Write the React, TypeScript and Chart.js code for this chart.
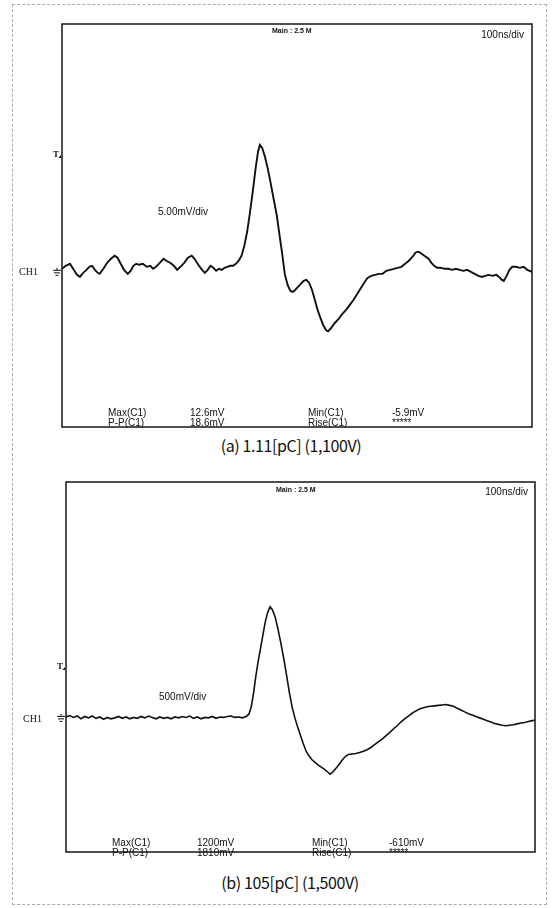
import React, { useEffect, useRef } from "react";
import { Chart, registerables } from "chart.js";

Chart.register(...registerables);

// ---------- Panel (a): 1.11 pC, 5.00 mV/div, 100 ns/div ----------
const A_TIME_NS = [
  0, 8, 17, 25, 32, 38, 45, 52, 58, 64, 70, 76, 80, 88, 96, 104, 112, 118, 125, 132,
  140, 146, 152, 158, 164, 172, 180, 188, 194, 200, 208, 216, 222, 230, 238, 245, 252, 260, 268, 276,
  282, 290, 298, 304, 310, 316, 322, 328, 334, 340, 346, 352, 358, 364, 370, 376, 382, 388, 394, 400,
  406, 412, 417, 421, 426, 432, 438, 444, 450, 457, 463, 469, 474, 480, 486, 491, 496, 502, 508, 514,
  520, 526, 532, 538, 544, 550, 556, 562, 566, 572, 580, 588, 596, 604, 612, 620, 628, 636, 644, 650,
  658, 666, 674, 682, 690, 698, 706, 714, 722, 730, 738, 746, 752, 757, 762, 768, 774, 780, 786, 792,
  798, 806, 814, 822, 830, 838, 846, 854, 862, 870, 878, 886, 894, 900, 908, 916, 924, 930, 936, 940,
  946, 952, 958, 966, 974, 982, 990, 1000,
];
const A_MV = [
  0.3, 0.6, 0.8, 0.2, -0.3, -0.5, -0.1, 0.2, 0.5, 0.6, 0.2, -0.1, -0.2, 0.3, 0.9, 1.3, 1.6, 1.4, 0.8, 0.2,
  -0.2, 0.1, 0.6, 0.8, 0.7, 0.8, 0.5, 0.6, 0.3, 0.5, 0.9, 1.3, 1.1, 0.9, 0.6, 0.2, 0.5, 0.9, 1.4, 1.6,
  1.3, 0.7, 0.2, -0.1, 0.2, 0.6, 0.4, 0.1, 0.3, 0.2, 0.4, 0.5, 0.6, 0.6, 0.8, 1.1, 1.6, 2.6, 4.0, 5.9,
  8.0, 10.3, 11.9, 12.6, 12.3, 11.4, 10.2, 8.8, 7.3, 5.6, 3.6, 1.6, -0.2, -1.3, -1.9, -2.0, -1.8, -1.5, -1.2, -0.9,
  -0.8, -1.1, -1.8, -2.8, -3.8, -4.6, -5.3, -5.8, -5.9, -5.6, -5.1, -4.7, -4.2, -3.8, -3.3, -2.8, -2.2, -1.6, -1.0, -0.6,
  -0.4, -0.3, -0.2, -0.2, 0.1, 0.2, 0.3, 0.4, 0.5, 0.8, 1.1, 1.5, 1.9, 2.0, 1.9, 1.7, 1.5, 1.3, 0.9, 0.6,
  0.4, 0.4, 0.3, 0.3, 0.2, 0.3, 0.2, 0.1, 0.2, 0.0, -0.2, -0.4, -0.5, -0.4, -0.3, -0.4, -0.3, -0.5, -0.8, -0.9,
  -0.4, 0.2, 0.5, 0.5, 0.4, 0.5, 0.2, 0.0,
];
const A_STATS = ["Max(C1)", "12.6mV", "Min(C1)", "-5.9mV", "P-P(C1)", "18.6mV", "Rise(C1)", "*****"];
const A_VDIV = "5.00mV/div";
const A_CAPTION = "(a) 1.11[pC] (1,100V)";
const A_TRIGGER_MV = 11.6;

// ---------- Panel (b): 105 pC, 500 mV/div, 100 ns/div ----------
const B_TIME_NS = [
  0, 8, 16, 24, 32, 40, 48, 56, 64, 72, 80, 88, 96, 104, 112, 120, 128, 136, 144, 152,
  160, 168, 176, 184, 192, 200, 208, 216, 224, 232, 240, 248, 256, 264, 272, 280, 288, 296, 304, 312,
  320, 328, 336, 344, 352, 360, 368, 376, 384, 390, 395, 400, 405, 410, 415, 420, 425, 430, 435, 440,
  446, 452, 458, 464, 470, 476, 482, 488, 494, 500, 506, 512, 518, 524, 531, 538, 545, 552, 558, 563,
  568, 573, 578, 584, 590, 596, 602, 610, 618, 626, 634, 642, 650, 658, 666, 674, 682, 690, 698, 706,
  714, 722, 730, 738, 746, 754, 762, 770, 778, 786, 794, 802, 810, 818, 826, 834, 842, 850, 858, 866,
  874, 882, 890, 898, 906, 914, 922, 930, 938, 946, 954, 962, 970, 978, 986, 994, 1000,
];
const B_MV = [
  10, 25, 5, 20, -10, 15, 0, 20, -5, 10, -15, 5, -10, 0, 15, -5, 10, -10, 5, -5,
  15, 0, 20, 5, -10, 10, -5, 5, -10, 10, 0, 15, 5, 20, -5, 10, -10, 5, 0, 15,
  -5, 10, 5, 15, 20, 5, 10, 0, 15, 40, 120, 270, 460, 620, 760, 900, 1040, 1140, 1200, 1170,
  1090, 960, 810, 650, 470, 280, 120, 0, -100, -190, -280, -360, -410, -450, -480, -510, -535, -560, -585, -610,
  -590, -560, -530, -490, -450, -415, -395, -390, -385, -375, -360, -345, -320, -290, -260, -230, -195, -160, -120, -85,
  -45, -10, 20, 50, 75, 95, 110, 120, 125, 130, 135, 140, 145, 135, 125, 105, 85, 65, 45, 30,
  15, 0, -15, -30, -45, -60, -70, -80, -85, -80, -75, -65, -55, -50, -40, -30, -25,
];
const B_STATS = ["Max(C1)", "1200mV", "Min(C1)", "-610mV", "P-P(C1)", "1810mV", "Rise(C1)", "*****"];
const B_VDIV = "500mV/div";
const B_CAPTION = "(b) 105[pC] (1,500V)";
const B_TRIGGER_MV = 551;

const TIMEBASE = "100ns/div";
const MAIN_LABEL = "Main : 2.5 M";
const CH_LABEL = "CH1";

type Panel = {
  time: number[];
  mv: number[];
  yMin: number;
  yMax: number;
  trigger: number;
  stats: string[];
  vdiv: string;
  top: number;
  height: number;
  lineWidth: number;
  padding: { left: number; right: number; top: number; bottom: number };
  statsX: number[];
  statsY: number[];
  vdivPos: [number, number];
  mainPos: [number, number];
  tbPos: [number, number];
  chX: number;
};

const PANEL_A: Panel = {
  time: A_TIME_NS,
  mv: A_MV,
  yMin: -15.4,
  yMax: 24.6,
  trigger: A_TRIGGER_MV,
  stats: A_STATS,
  vdiv: A_VDIV,
  top: 0,
  height: 432,
  lineWidth: 1.9,
  padding: { left: 62, right: 22, top: 24, bottom: 5 },
  statsX: [108, 190, 308, 392],
  statsY: [413, 423],
  vdivPos: [158, 212],
  mainPos: [272, 31],
  tbPos: [524, 35],
  chX: 19,
};

const PANEL_B: Panel = {
  time: B_TIME_NS,
  mv: B_MV,
  yMin: -1450,
  yMax: 2550,
  trigger: B_TRIGGER_MV,
  stats: B_STATS,
  vdiv: B_VDIV,
  top: 470,
  height: 390,
  lineWidth: 1.6,
  padding: { left: 66, right: 19, top: 12, bottom: 8 },
  statsX: [112, 197, 312, 389],
  statsY: [843 - 470, 853 - 470],
  vdivPos: [159, 697 - 470],
  mainPos: [276, 490 - 470],
  tbPos: [528, 492 - 470],
  chX: 23,
};

function Scope({ p }: { p: Panel }) {
  const ref = useRef<HTMLCanvasElement>(null);
  useEffect(() => {
    const canvas = ref.current;
    if (!canvas) return;
    const overlay = {
      id: "scopeOverlay",
      afterDraw(chart: any) {
        const c = chart.ctx as CanvasRenderingContext2D;
        const a = chart.chartArea;
        const ys = chart.scales.y;
        c.save();
        c.strokeStyle = "#151515";
        c.lineWidth = 1.5;
        c.strokeRect(a.left, a.top, a.right - a.left, a.bottom - a.top);
        c.fillStyle = "#111";
        c.textBaseline = "middle";
        c.font = "bold 7px 'Liberation Sans', Arial, sans-serif";
        c.textAlign = "left";
        c.fillText(MAIN_LABEL, p.mainPos[0], p.mainPos[1]);
        c.font = "10px 'Liberation Sans', Arial, sans-serif";
        c.textAlign = "right";
        c.fillText(TIMEBASE, p.tbPos[0], p.tbPos[1]);
        c.textAlign = "left";
        c.fillText(p.vdiv, p.vdivPos[0], p.vdivPos[1]);
        for (let r = 0; r < 2; r++) {
          for (let k = 0; k < 4; k++) {
            c.fillText(p.stats[r * 4 + k], p.statsX[k], p.statsY[r]);
          }
        }
        const y0 = ys.getPixelForValue(0);
        c.font = "10px 'Liberation Serif', 'Times New Roman', serif";
        c.fillText(CH_LABEL, p.chX, y0 + 1);
        const gx = a.left - 5;
        c.strokeStyle = "#111";
        c.lineWidth = 1;
        c.beginPath();
        c.moveTo(gx - 4, y0 - 1.5);
        c.lineTo(gx + 4, y0 - 1.5);
        c.moveTo(gx - 3, y0 + 1);
        c.lineTo(gx + 3, y0 + 1);
        c.moveTo(gx - 1.5, y0 + 3.5);
        c.lineTo(gx + 1.5, y0 + 3.5);
        c.moveTo(gx, y0 - 4);
        c.lineTo(gx, y0 - 1.5);
        c.stroke();
        const yt = ys.getPixelForValue(p.trigger);
        c.font = "bold 9px 'Liberation Serif', serif";
        c.fillText("T", a.left - 9, yt);
        c.beginPath();
        c.moveTo(a.left - 3.5, yt + 3);
        c.lineTo(a.left - 1, yt + 3);
        c.lineTo(a.left - 1, yt);
        c.closePath();
        c.fill();
        c.restore();
      },
    };
    const chart = new Chart(canvas, {
      type: "line",
      data: {
        datasets: [
          {
            data: p.time.map((t, i) => ({ x: t, y: p.mv[i] })),
            borderColor: "#111",
            borderWidth: p.lineWidth,
            pointRadius: 0,
            tension: 0,
            fill: false,
          },
        ],
      },
      options: {
        animation: false,
        responsive: false,
        devicePixelRatio: 1,
        layout: { padding: p.padding },
        plugins: { legend: { display: false }, tooltip: { enabled: false } },
        scales: {
          x: { type: "linear", min: 0, max: 1000, display: false },
          y: { type: "linear", min: p.yMin, max: p.yMax, display: false },
        },
      },
      plugins: [overlay],
    } as any);
    return () => chart.destroy();
  }, [p]);
  return (
    <canvas
      ref={ref}
      width={554}
      height={p.height}
      style={{ position: "absolute", left: 0, top: p.top, width: 554, height: p.height }}
    />
  );
}

const captionStyle = (cx: number, cy: number): React.CSSProperties => ({
  position: "absolute",
  left: cx,
  top: cy,
  transform: "translate(-50%, -50%)",
  fontFamily: "'Noto Sans CJK KR', 'Liberation Sans', sans-serif",
  fontSize: 16,
  letterSpacing: -0.4,
  whiteSpace: "nowrap",
  color: "#111",
  lineHeight: 1,
});

export default function App() {
  return (
    <div
      style={{
        position: "fixed",
        left: 0,
        top: 0,
        width: 554,
        height: 908,
        background: "#fff",
        overflow: "hidden",
      }}
    >
      <div
        style={{
          position: "absolute",
          left: 12,
          top: 4,
          width: 535,
          height: 901,
          border: "1px dashed #aaa",
          boxSizing: "border-box",
        }}
      />
      <Scope p={PANEL_A} />
      <div style={captionStyle(291, 445)}>{A_CAPTION}</div>
      <Scope p={PANEL_B} />
      <div style={captionStyle(290, 882)}>{B_CAPTION}</div>
    </div>
  );
}
